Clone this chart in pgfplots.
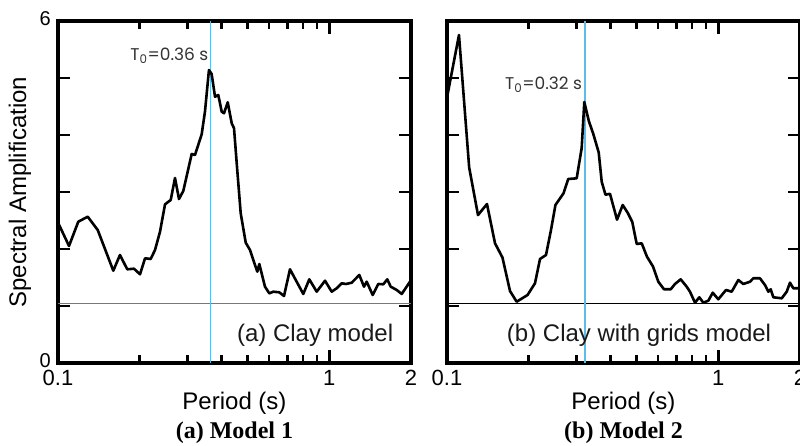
\documentclass[border=0pt]{standalone}
\usepackage{fontspec}
\setmainfont{Liberation Sans}
\newfontfamily\serifbold{Liberation Serif}
\newfontfamily\gothic{Poppins}
\usepackage{pgfplots}
\pgfplotsset{compat=1.18}
\definecolor{tline}{RGB}{95,188,230}
\definecolor{refgray}{RGB}{120,120,120}

\begin{document}
\begin{tikzpicture}
% ---------------- Left panel ----------------
\begin{axis}[name=left, at={(58pt,83pt)}, anchor=south west,
    xmode=log, unbounded coords=jump,
    xmin=0.1, xmax=2, ymin=0, ymax=6,
    width=353pt, height=342pt, scale only axis,
    axis line style={line width=3.2pt},
    xtick={0.1,1,2}, xticklabels={0.1,1,2},
    xtick pos=both, ytick pos=both,
    ytick={0,1,2,3,4,5,6},
    yticklabels={0,,,,,,6},
    xtick align=inside, ytick align=inside,
    major tick length=12pt,
    xtick style={draw=black, line width=2.6pt},
    ytick style={draw=black, line width=2.6pt},
    xticklabel style={font=\fontsize{22}{26}\selectfont, inner sep=0pt, anchor=north, yshift=-7pt},
    yticklabel style={font=\fontsize{20}{24}\selectfont, inner sep=0pt, anchor=east, xshift=-7pt, yshift=2pt},
    xlabel={Period (s)},
    xlabel style={at={(axis description cs:0.5,-0.117)}, anchor=center, font=\fontsize{24}{28}\selectfont},
    ylabel={Spectral Amplification},
    ylabel style={at={(axis description cs:-0.1076,0.5)}, anchor=center, rotate=0, font=\fontsize{24}{28}\selectfont},
  ]
% x tick marks (inside, bottom and top)
\addplot[black, line width=2.6pt, line cap=butt] coordinates {
(0.2,0) (0.2,0.14) (0.2,nan) (0.3,0) (0.3,0.14) (0.3,nan) (0.4,0) (0.4,0.14) (0.4,nan)
(0.5,0) (0.5,0.14) (0.5,nan) (0.6,0) (0.6,0.14) (0.6,nan) (0.7,0) (0.7,0.14) (0.7,nan)
(0.8,0) (0.8,0.14) (0.8,nan) (0.9,0) (0.9,0.14) (0.9,nan) (1,0) (1,0.23) (1,nan)
(0.2,6) (0.2,5.86) (0.2,nan) (0.3,6) (0.3,5.86) (0.3,nan) (0.4,6) (0.4,5.86) (0.4,nan)
(0.5,6) (0.5,5.86) (0.5,nan) (0.6,6) (0.6,5.86) (0.6,nan) (0.7,6) (0.7,5.86) (0.7,nan)
(0.8,6) (0.8,5.86) (0.8,nan) (0.9,6) (0.9,5.86) (0.9,nan) (1,6) (1,5.77)
};
\addplot[refgray, line width=1.5pt] coordinates {(0.1,1.04) (2,1.04)};
\addplot[tline, line width=1.2pt] coordinates {(0.365,0) (0.365,6)};
\addplot[black, line width=2.6pt, line join=round] coordinates {
(0.1000,2.460) (0.1003,2.451) (0.1098,2.053) (0.1188,2.479) (0.1287,2.567)
(0.1401,2.333) (0.1599,1.619) (0.1692,1.895) (0.1800,1.644) (0.1906,1.654)
(0.2006,1.556) (0.2093,1.837) (0.2196,1.825) (0.2278,1.982) (0.2377,2.304)
(0.2480,2.784) (0.2603,2.860) (0.2699,3.246) (0.2792,2.877) (0.2896,3.018)
(0.3110,3.667) (0.3198,3.649) (0.3385,4.012) (0.3481,4.409) (0.3601,5.140)
(0.3684,5.070) (0.3791,4.672) (0.3898,4.702) (0.4012,4.409) (0.4091,4.381)
(0.4222,4.574) (0.4368,4.205) (0.4454,4.118) (0.4557,3.504) (0.4714,2.626)
(0.4919,2.111) (0.5102,1.982) (0.5246,1.807) (0.5427,1.602) (0.5520,1.737)
(0.5792,1.339) (0.6009,1.222) (0.6216,1.251) (0.6541,1.240) (0.6807,1.175)
(0.7162,1.644) (0.7581,1.426) (0.8017,1.211) (0.8436,1.468) (0.8985,1.251)
(0.9640,1.444) (1.0203,1.251) (1.0646,1.311) (1.1108,1.398) (1.1520,1.386)
(1.2094,1.409) (1.2897,1.544) (1.3422,1.339) (1.3733,1.426) (1.4449,1.193)
(1.5151,1.386) (1.5808,1.381) (1.6354,1.468) (1.6833,1.339) (1.7716,1.281)
(1.8484,1.211) (1.9833,1.426) (2.0000,1.440)
};
\node[anchor=east, inner sep=1pt, text=black!80, font=\gothic\fontsize{17}{20}\selectfont]
  at (axis cs:0.362,5.39) {T\textsubscript{0}=0.36 s};
\node[anchor=east, inner sep=0pt, text=black!90, font=\fontsize{24}{28}\selectfont]
  at (rel axis cs:0.95,0.082) {(a) Clay model};
\end{axis}

% ---------------- Right panel ----------------
\begin{axis}[name=right, at={(447pt,83pt)}, anchor=south west,
    xmode=log, unbounded coords=jump,
    xmin=0.1, xmax=2, ymin=0, ymax=6,
    width=353pt, height=342pt, scale only axis,
    axis line style={line width=3.2pt},
    xtick={0.1,1,2}, xticklabels={0.1,1,2},
    xtick pos=both, ytick pos=both,
    ytick={0,1,2,3,4,5,6},
    yticklabels={,,,,,,},
    xtick align=inside, ytick align=inside,
    major tick length=12pt,
    xtick style={draw=black, line width=2.6pt},
    ytick style={draw=black, line width=2.6pt},
    xticklabel style={font=\fontsize{22}{26}\selectfont, inner sep=0pt, anchor=north, yshift=-7pt},
    xlabel={Period (s)},
    xlabel style={at={(axis description cs:0.5,-0.117)}, anchor=center, font=\fontsize{24}{28}\selectfont},
  ]
% x tick marks (inside, bottom and top)
\addplot[black, line width=2.6pt, line cap=butt] coordinates {
(0.2,0) (0.2,0.14) (0.2,nan) (0.3,0) (0.3,0.14) (0.3,nan) (0.4,0) (0.4,0.14) (0.4,nan)
(0.5,0) (0.5,0.14) (0.5,nan) (0.6,0) (0.6,0.14) (0.6,nan) (0.7,0) (0.7,0.14) (0.7,nan)
(0.8,0) (0.8,0.14) (0.8,nan) (0.9,0) (0.9,0.14) (0.9,nan) (1,0) (1,0.23) (1,nan)
(0.2,6) (0.2,5.86) (0.2,nan) (0.3,6) (0.3,5.86) (0.3,nan) (0.4,6) (0.4,5.86) (0.4,nan)
(0.5,6) (0.5,5.86) (0.5,nan) (0.6,6) (0.6,5.86) (0.6,nan) (0.7,6) (0.7,5.86) (0.7,nan)
(0.8,6) (0.8,5.86) (0.8,nan) (0.9,6) (0.9,5.86) (0.9,nan) (1,6) (1,5.77)
};
\addplot[black, line width=1pt] coordinates {(0.1,1.04) (2,1.04)};
\addplot[tline, line width=1.2pt] coordinates {(0.3226,0) (0.3226,6)};
\addplot[black, line width=2.6pt, line join=round] coordinates {
(0.1000,4.658) (0.1107,5.754) (0.1207,3.430) (0.1301,2.596) (0.1404,2.789)
(0.1503,2.100) (0.1601,1.851) (0.1707,1.263) (0.1806,1.075) (0.1981,1.193)
(0.2110,1.398) (0.2202,1.825) (0.2317,1.895) (0.2417,2.333) (0.2510,2.772)
(0.2688,2.977) (0.2799,3.228) (0.3006,3.240) (0.3136,3.772) (0.3207,4.579)
(0.3332,4.246) (0.3461,4.018) (0.3624,3.693) (0.3717,3.181) (0.3838,2.953)
(0.3988,2.968) (0.4233,2.514) (0.4442,2.772) (0.4638,2.632) (0.4818,2.474)
(0.5003,2.088) (0.5219,2.100) (0.5458,1.865) (0.5744,1.693) (0.6009,1.426)
(0.6307,1.293) (0.6675,1.293) (0.6923,1.386) (0.7266,1.468) (0.7646,1.339)
(0.7862,1.251) (0.8204,1.058) (0.8509,1.153) (0.8803,1.058) (0.9186,1.093)
(0.9536,1.233) (0.9998,1.118) (1.0673,1.281) (1.1201,1.251) (1.1848,1.456)
(1.2362,1.386) (1.3084,1.426) (1.3455,1.486) (1.4240,1.486) (1.4858,1.368)
(1.5285,1.251) (1.5600,1.293) (1.5948,1.153) (1.7127,1.135) (1.7865,1.251)
(1.8373,1.409) (1.8894,1.311) (1.9714,1.311) (2.0000,1.310)
};
\node[anchor=east, inner sep=1pt, text=black!80, font=\gothic\fontsize{17}{20}\selectfont]
  at (axis cs:0.318,4.88) {T\textsubscript{0}=0.32 s};
\node[anchor=center, inner sep=0pt, text=black!90, font=\fontsize{24}{28}\selectfont]
  at (rel axis cs:0.544,0.082) {(b) Clay with grids model};
\end{axis}

\node[anchor=center, font=\serifbold\bfseries\fontsize{24}{28}\selectfont]
  at ([yshift=-70pt]left.south) {(a) Model 1};
\node[anchor=center, font=\serifbold\bfseries\fontsize{24}{28}\selectfont]
  at ([yshift=-70pt]right.south) {(b) Model 2};

\pgfresetboundingbox
\path[use as bounding box] (0pt,0pt) rectangle (800pt,446pt);
\end{tikzpicture}
\end{document}
